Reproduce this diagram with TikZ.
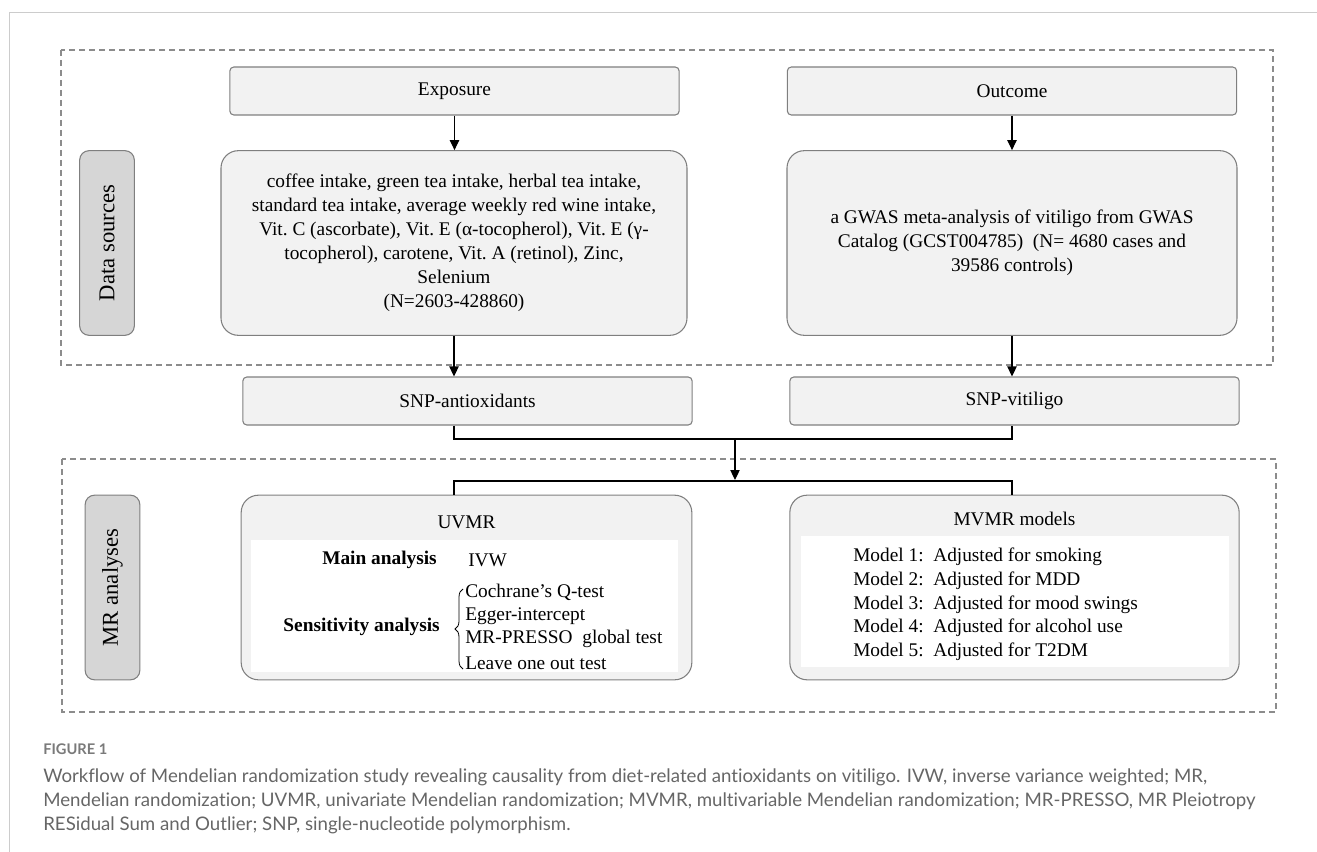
\documentclass[tikz,border=0pt]{standalone}
\usepackage{fontspec}
\setmainfont{Liberation Serif}
\newfontfamily\capfont[Ligatures=NoCommon]{Lato}
\usetikzlibrary{arrows.meta,decorations.pathreplacing}
\definecolor{boxfill}{HTML}{F2F2F2}
\definecolor{boxdraw}{HTML}{7F7F7F}
\definecolor{labfill}{HTML}{D6D6D6}
\definecolor{dashc}{HTML}{8C8C8C}
\definecolor{framec}{HTML}{CCCCCC}
\definecolor{capc}{HTML}{666666}
\definecolor{figc}{HTML}{7A7A7A}
\newcommand\dfont{\fontsize{14.5}{18}\selectfont}
\begin{document}
\begin{tikzpicture}[x=0.75pt,y=-0.75pt,
  font=\dfont,
  smallbox/.style={draw=boxdraw, fill=boxfill, rounded corners=3pt, line width=0.8pt,
    inner sep=0pt, minimum width=337pt, minimum height=36pt},
  bigbox/.style={draw=boxdraw, fill=boxfill, rounded corners=13pt, line width=0.8pt,
    inner sep=0pt, minimum height=138.5pt, align=center},
  labbox/.style={draw=boxdraw, fill=labfill, rounded corners=7pt, line width=0.8pt,
    inner sep=0pt, minimum width=138.5pt, minimum height=41pt, rotate=90,
    font=\fontsize{17}{20}\selectfont},
  arr/.style={-{Triangle[length=7.5pt,width=7pt]}, line width=0.9pt},
  conn/.style={line width=0.9pt},
  dashbox/.style={draw=dashc, line width=0.8pt, dash pattern=on 4.5pt off 3pt},
  boldtxt/.style={font=\dfont\bfseries},
  captxt/.style={anchor=base west, inner sep=0pt, text=capc, font=\fontsize{14}{18}\capfont}
]
\useasboundingbox (0,0) rectangle (1317,852);
% page frame
\draw[framec, line width=0.75pt] (9,852) -- (9,13) -- (1317,13);
% dashed group boxes
\draw[dashbox] (61,50) rectangle (1273,365);
\draw[dashbox] (62,459) rectangle (1276,712);

% data sources
\node[smallbox] (expo) at (454.5,91) {Exposure};
\node[smallbox] (outc) at (1012,91) {Outcome};
\node[bigbox, minimum width=349.5pt] (expd) at (454,243)
  {coffee intake, green tea intake,  herbal tea intake,\\
   standard tea intake, average weekly red wine intake,\\
   Vit.\ C (ascorbate), Vit.\ E (α-tocopherol), Vit.\ E (γ-\\
   tocopherol), carotene, Vit.\ A (retinol),\ Zinc,\\
   Selenium\\
   (N=2603-428860)};
\node[bigbox, minimum width=337.5pt] (outd) at (1012,243)
  {a GWAS meta-analysis of vitiligo from GWAS\\
   Catalog (GCST004785) \ (N= 4680\ cases and\\
   39586\ controls)};
\node[labbox] (dsl) at (107,243) {Data sources};

% SNP boxes
\node[smallbox] (snpa) at (467.5,401) {SNP-antioxidants};
\node[smallbox] (snpv) at (1014.5,401) {SNP-vitiligo};

% MR analyses
\node[labbox] (mrl) at (112.5,587.5) {MR analyses};
\node[bigbox, minimum width=338pt] (uvmr) at (466.5,587.5) {};
\node[bigbox, minimum width=337pt] (mvmr) at (1014.5,587.5) {};
\fill[white] (251,540) rectangle (678,672);
\fill[white] (801,536) rectangle (1229,667);
\node (uvt) at (466.5,522) {UVMR};
\node (mvt) at (1014.5,519) {MVMR models};
\node[boldtxt, anchor=east, inner sep=0pt] (ma) at (437,560) {Main\ analysis};
\node[anchor=west, inner sep=0pt] (ivw) at (468,560) {IVW};
\node[boldtxt, anchor=east, inner sep=0pt] (sa) at (440,627) {Sensitivity analysis};
\coordinate (brtop) at (463,589);
\coordinate (brbot) at (463,669);
\draw[decorate, decoration={brace, amplitude=6pt}, line width=0.6pt] (brbot) -- (brtop);
\node[anchor=west, inner sep=0pt] (s1) at (465,592) {Cochrane’s Q-test};
\node[anchor=west, inner sep=0pt] (s2) at (465,616) {Egger-intercept};
\node[anchor=west, inner sep=0pt] (s3) at (465,639) {MR-PRESSO\ \ global test};
\node[anchor=west, inner sep=0pt] (s4) at (465,663) {Leave one out test};
\node[anchor=west, align=left, inner sep=0pt, font=\fontsize{14.5}{17.8}\selectfont] (models) at (853,604.5)
  {Model 1:\ \ Adjusted for smoking\\
   Model 2:\ \ Adjusted for MDD\\
   Model 3:\ \ Adjusted for mood swings\\
   Model 4:\ \ Adjusted for alcohol use\\
   Model 5:\ \ Adjusted for T2DM};

% connectors
\draw[arr] (expo.south) -- (expo.south |- expd.north);
\draw[arr] (outc.south) -- (outc.south |- outd.north);
\draw[arr] (expd.south) -- (expd.south |- snpa.north);
\draw[arr] (outd.south) -- (outd.south |- snpv.north);
\coordinate (m1) at (735,439);
\coordinate (m2) at (735,480);
\coordinate (m3) at (735,481);
\draw[conn] (expd.south |- snpa.south) |- (m1) -| (outd.south |- snpv.south);
\draw[arr] (m1) -- (m2);
\draw[conn] (expd.south |- uvmr.north) |- (m3) -| (outd.south |- mvmr.north);

% caption
\node[anchor=base west, inner sep=0pt, text=figc, font=\fontsize{11}{12}\capfont\bfseries] (fig) at (43,754) {FIGURE 1};
\node[captxt] (cap1) at (43,782) {Workflow of Mendelian randomization study revealing causality from diet-related antioxidants on vitiligo. IVW, inverse variance weighted; MR,};
\node[captxt] (cap2) at (43,806) {Mendelian randomization; UVMR, univariate Mendelian randomization; MVMR, multivariable Mendelian randomization; MR-PRESSO, MR Pleiotropy};
\node[captxt] (cap3) at (43,830) {RESidual Sum and Outlier; SNP, single-nucleotide polymorphism.};
\end{tikzpicture}
\end{document}
